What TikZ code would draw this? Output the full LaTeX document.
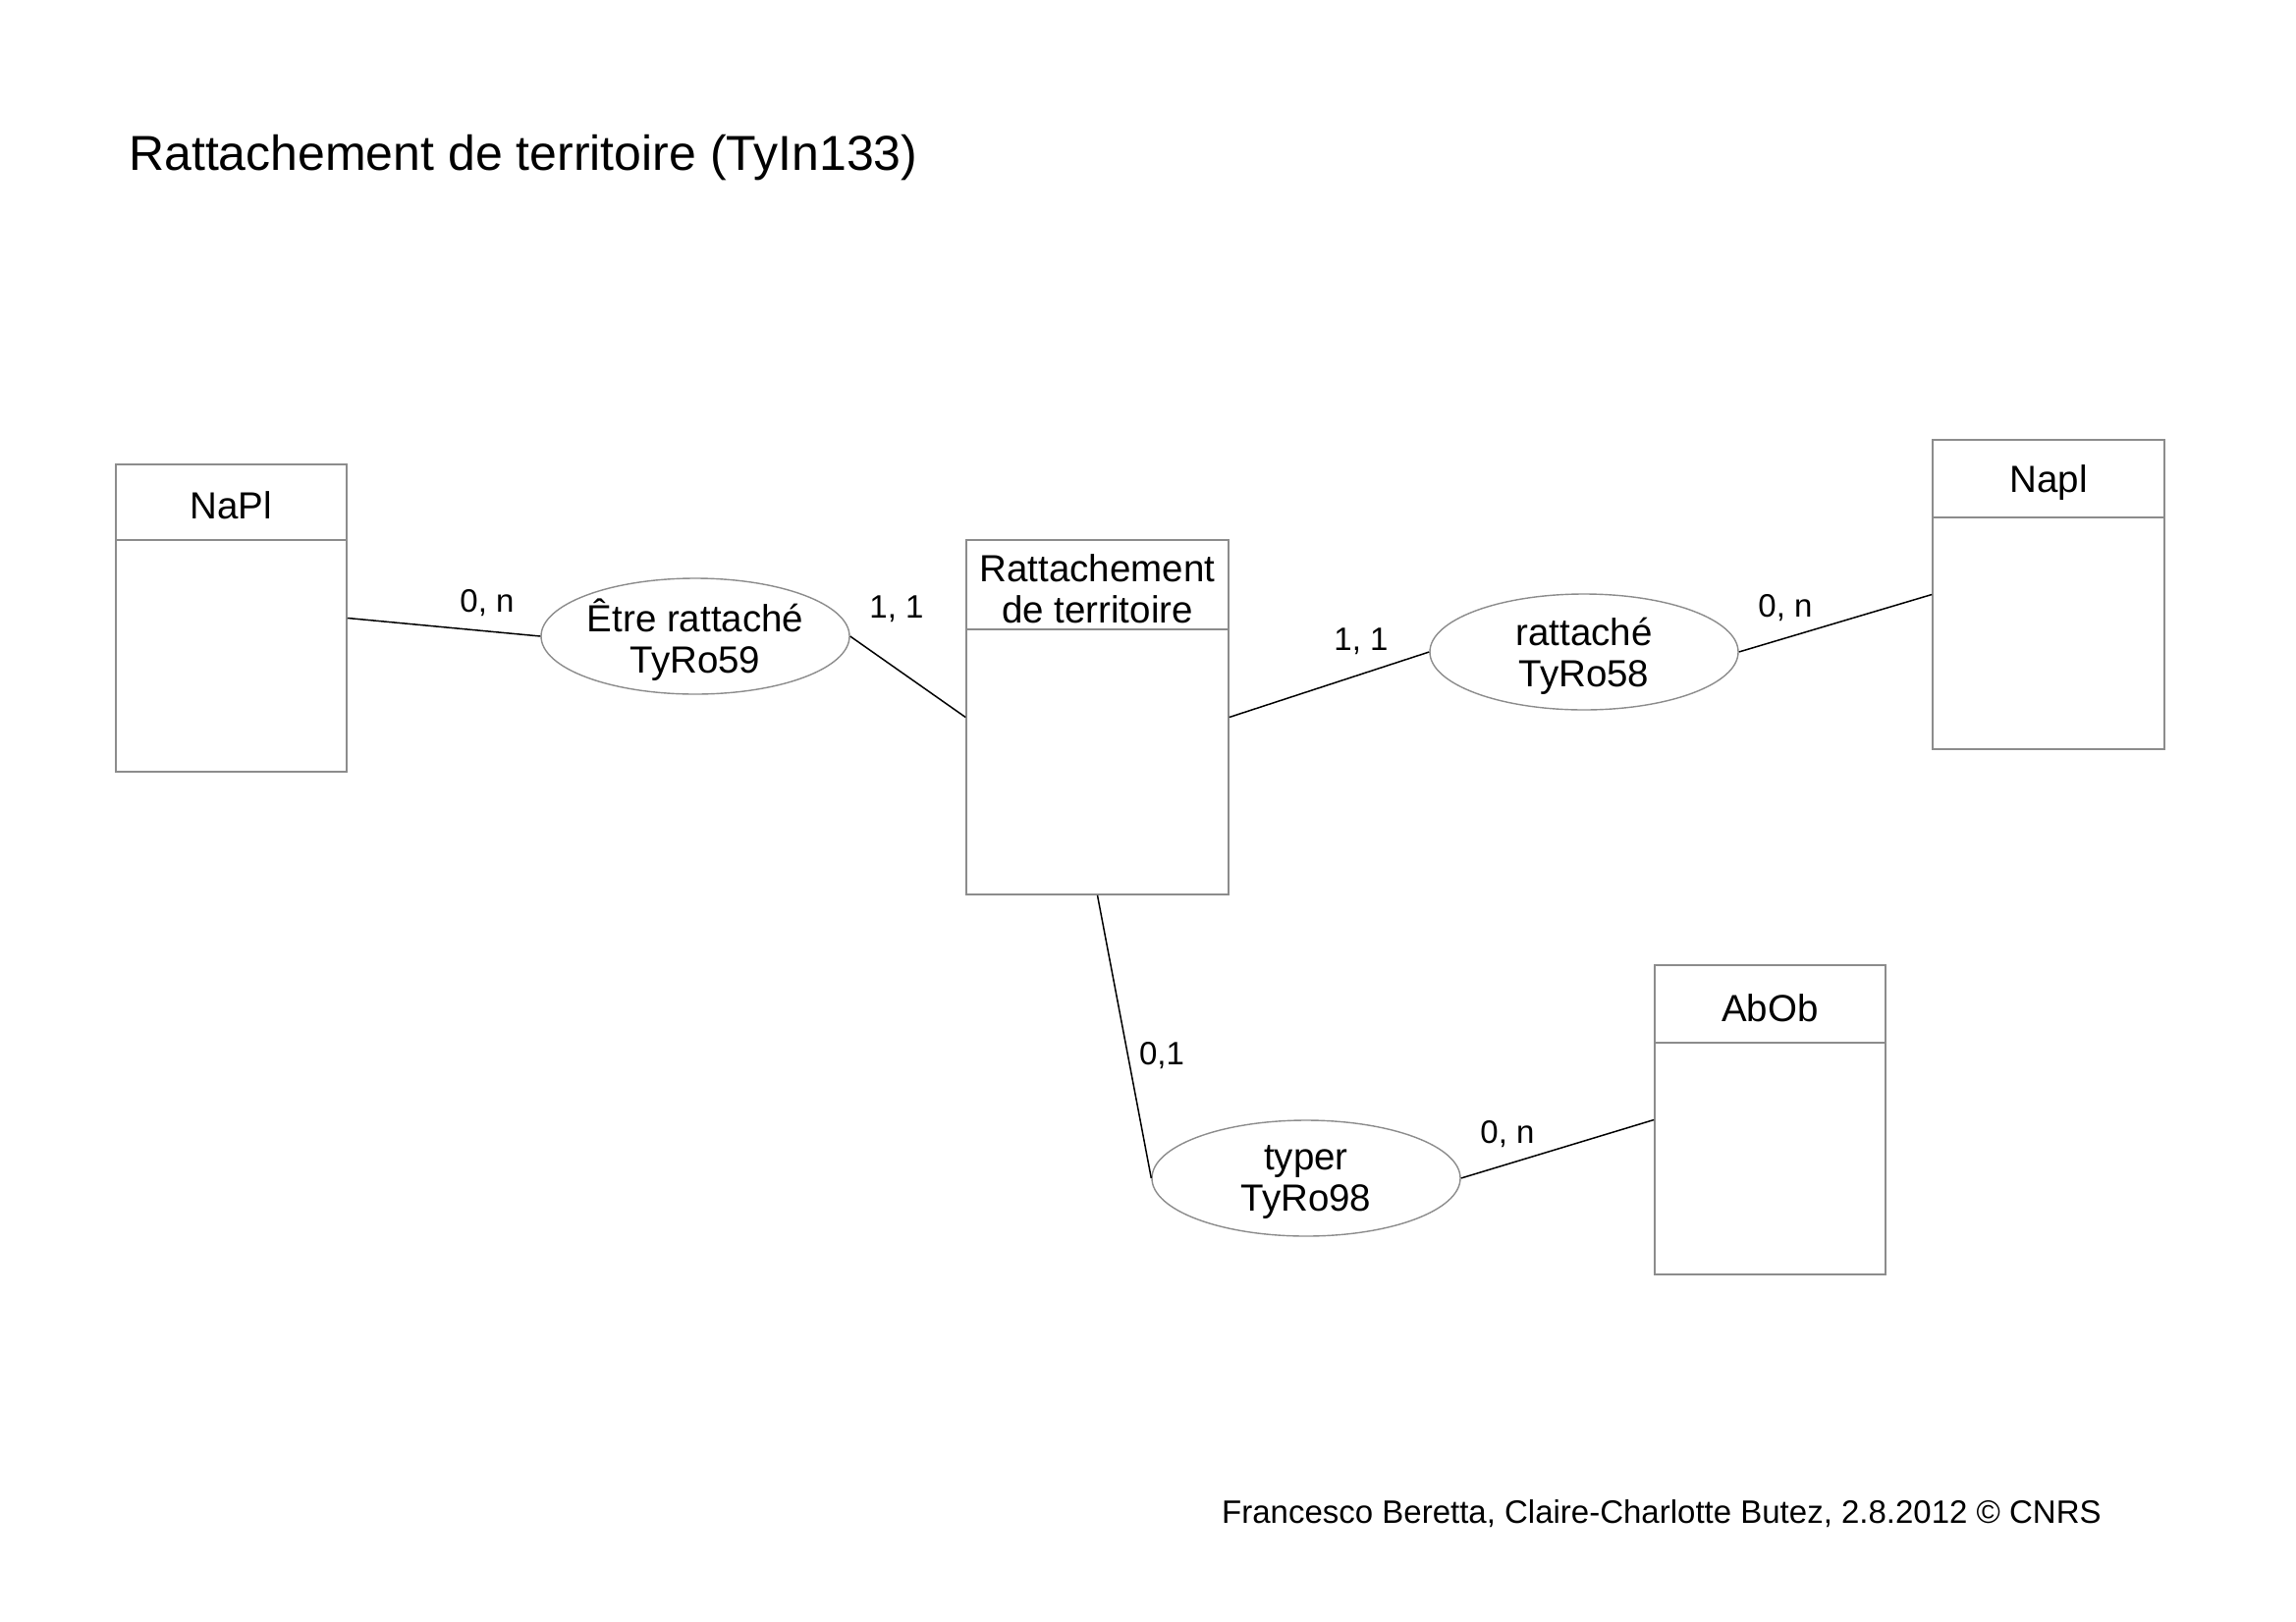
\documentclass[tikz,border=0pt]{standalone}
\usepackage{fontspec}
\setmainfont{Liberation Sans}
\usetikzlibrary{shapes.geometric}
\begin{document}
\begin{tikzpicture}[x=1pt,y=-1pt,
  entity/.style={draw=black!45, line width=1.6pt, rectangle, inner sep=0pt},
  assoc/.style={draw=black!45, line width=1.4pt, ellipse, inner sep=0pt,
     minimum width=314pt, minimum height=118pt},
  hdr/.style={font=\fontsize{38.5}{42}\selectfont, align=center, inner sep=0pt, yshift=-4pt},
  card/.style={font=\fontsize{33}{36}\selectfont, inner sep=0pt, yshift=-3pt},
  divider/.style={draw=black!45, line width=1.6pt},
  link/.style={draw=black, line width=1.5pt}]
\useasboundingbox (0,0) rectangle (2338,1652);
\fill[white] (0,0) rectangle (2338,1652);

% title
\node[anchor=base west, inner sep=0pt, font=\fontsize{50}{54}\selectfont] (title) at (131,173) {Rattachement de territoire (TyIn133)};

% entities
\node[entity, minimum width=235pt, minimum height=313pt] (napl1) at (235.5,629.5) {};
\draw[divider] (napl1.west |- 0,550) -- (napl1.east |- 0,550);
\node[hdr] (napl1h) at (235.5,511) {NaPl};

\node[entity, minimum width=236pt, minimum height=315pt] (napl2) at (2086,605.5) {};
\draw[divider] (napl2.west |- 0,527) -- (napl2.east |- 0,527);
\node[hdr] (napl2h) at (2086,487.5) {Napl};

\node[entity, minimum width=267pt, minimum height=361pt] (ratt) at (1117.5,730.5) {};
\draw[divider] (ratt.west |- 0,641) -- (ratt.east |- 0,641);
\node[hdr] (ratth) at (1117.5,595.5) {Rattachement\\de territoire};

\node[entity, minimum width=235pt, minimum height=315pt] (abob) at (1802.5,1140.5) {};
\draw[divider] (abob.west |- 0,1062) -- (abob.east |- 0,1062);
\node[hdr] (abobh) at (1802.5,1022.5) {AbOb};

% associations
\node[assoc] (etre) at (708,648) {};
\node[hdr] (etret) at (etre.center) {Être rattaché\\TyRo59};
\node[assoc] (rattache) at (1613,664) {};
\node[hdr] (rattachet) at (rattache.center) {rattaché\\TyRo58};
\node[assoc] (typer) at (1330,1200) {};
\node[hdr] (typert) at (typer.center) {typer\\TyRo98};

% links
\draw[link] (napl1.east) -- (etre.west);
\draw[link] (etre.east) -- (ratt.west);
\draw[link] (ratt.east) -- (rattache.west);
\draw[link] (rattache.east) -- (napl2.west);
\draw[link] (ratt.south) -- (typer.west);
\draw[link] (typer.east) -- (abob.west);

% cardinalities
\node[card] (c1) at (496,611) {0, n};
\node[card] (c2) at (913,617) {1, 1};
\node[card] (c3) at (1386,650) {1, 1};
\node[card] (c4) at (1818,616) {0, n};
\node[card] (c5) at (1183,1072) {0,1};
\node[card] (c6) at (1535,1152) {0, n};

% footer
\node[inner sep=0pt, yshift=-3pt, font=\fontsize{33}{36}\selectfont] (foot) at (1692,1539) {Francesco Beretta, Claire-Charlotte Butez, 2.8.2012 © CNRS};
\end{tikzpicture}
\end{document}
